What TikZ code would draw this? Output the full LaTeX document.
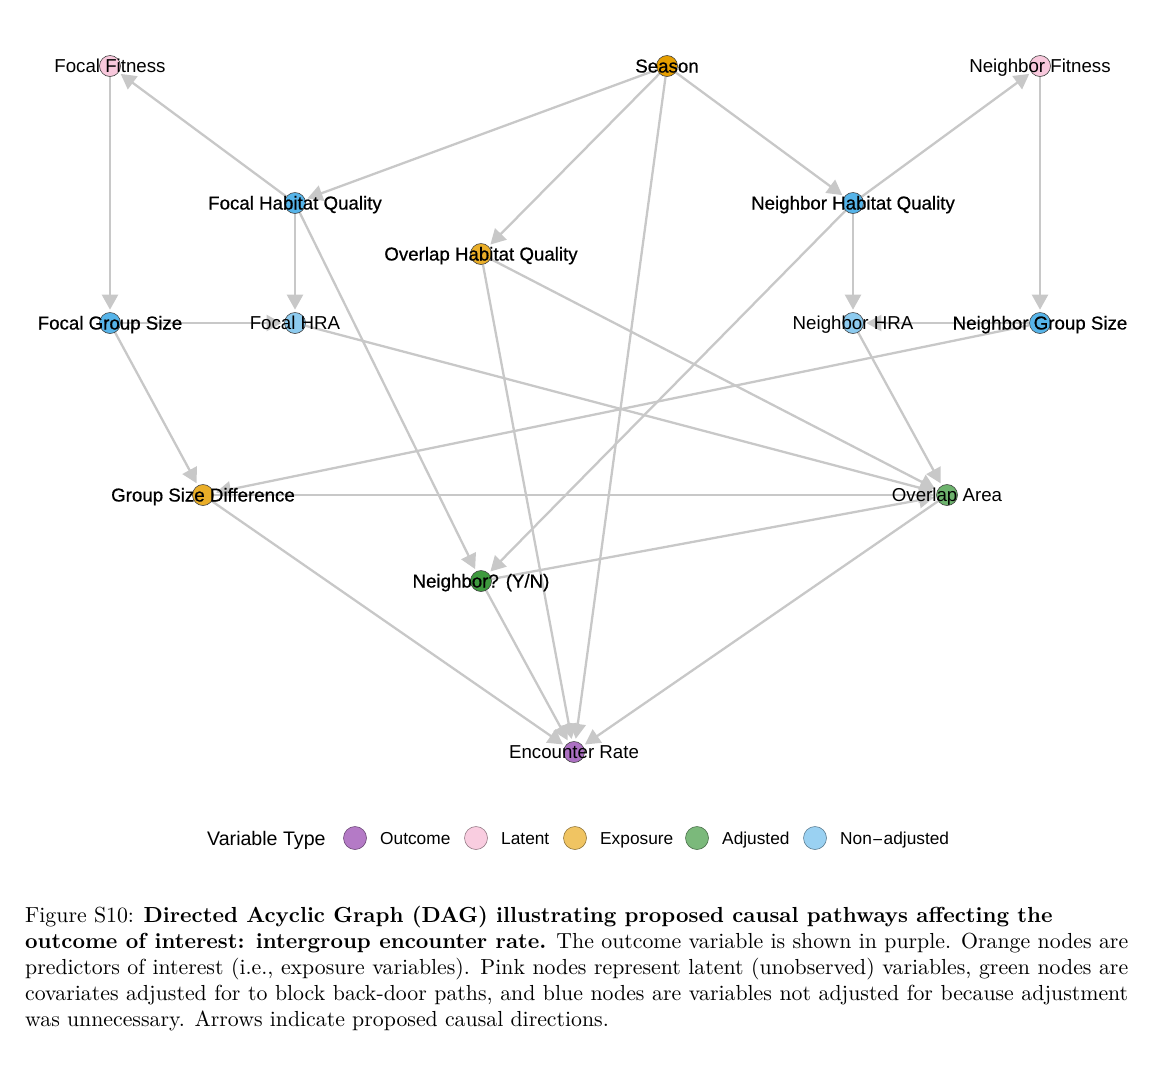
\documentclass[tikz,border=0pt]{standalone}
\usepackage{fontspec}
\newfontfamily\capfont{lmroman10-regular.otf}[BoldFont=lmroman10-bold.otf]
\newfontfamily\lblfont{Liberation Sans}
\newfontfamily\lblbfont[FakeBold=0.6]{Liberation Sans}
\newfontfamily\symfont{DejaVu Sans}
\usetikzlibrary{arrows.meta,backgrounds}
\definecolor{edgegray}{HTML}{C8C8C8}
\definecolor{cpurple}{HTML}{AC70C2}
\definecolor{cpink}{HTML}{F8C8DC}
\definecolor{corange}{HTML}{E69F00}
\definecolor{corangeb}{HTML}{EAAE28}
\definecolor{cblue}{HTML}{56B4E9}
\definecolor{cbluel}{HTML}{8DCBEF}
\definecolor{cgreen}{HTML}{3E9A3E}
\definecolor{cgreenl}{HTML}{6DB36D}
\definecolor{lpurple}{HTML}{B47AC6}
\definecolor{lpink}{HTML}{F9CDE0}
\definecolor{lorange}{HTML}{F0C462}
\definecolor{lgreen}{HTML}{7BB97B}
\definecolor{lblue}{HTML}{9AD1F2}
\begin{document}
\begin{tikzpicture}[x=1pt,y=-1pt,
  dagnode/.style={circle, draw=black!75, line width=0.6pt, minimum size=21pt, inner sep=0pt},
  edge/.style={draw=edgegray, line width=2.3pt, -{Triangle[length=15pt,width=16pt]}, shorten >=2.5pt},
  lab/.style={font={\lblfont\fontsize{18.7}{22}\selectfont}, inner sep=0pt, anchor=base},
  labb/.style={font={\lblbfont\fontsize{18.7}{22}\selectfont}, inner sep=0pt, anchor=base},
  legdot/.style={circle, line width=0.6pt, minimum size=23pt, inner sep=0pt},
  legtxt/.style={font={\lblfont\fontsize{17.3}{20}\selectfont}, inner sep=0pt, anchor=base west},
  legtitle/.style={font={\lblfont\fontsize{19.6}{23}\selectfont}, inner sep=0pt, anchor=base west}
]
\useasboundingbox (0,0) rectangle (1158,1080);

% node circles
\node[dagnode, fill=cpink] (ff) at (110,66) {};
\node[dagnode, fill=corange] (se) at (667,66) {};
\node[dagnode, fill=cpink] (nf) at (1040,66) {};
\node[dagnode, fill=cblue] (fhq) at (295,203) {};
\node[dagnode, fill=cblue] (nhq) at (853,203) {};
\node[dagnode, fill=corangeb] (ohq) at (481,254) {};
\node[dagnode, fill=cblue] (fgs) at (110,323) {};
\node[dagnode, fill=cbluel] (fhra) at (295,323) {};
\node[dagnode, fill=cbluel] (nhra) at (853,323) {};
\node[dagnode, fill=cblue] (ngs) at (1040,323) {};
\node[dagnode, fill=corangeb] (gsd) at (203,495) {};
\node[dagnode, fill=cgreenl] (oa) at (947,495) {};
\node[dagnode, fill=cgreen] (nyn) at (481,581) {};
\node[dagnode, fill=cpurple] (er) at (574,752) {};

% edges
\begin{pgfonlayer}{background}
\draw[edge] (fhq) -- (ff);
\draw[edge] (ff) -- (fgs);
\draw[edge] (se) -- (fhq);
\draw[edge] (se) -- (ohq);
\draw[edge] (se) -- (nhq);
\draw[edge] (se) -- (er);
\draw[edge] (nhq) -- (nf);
\draw[edge] (nf) -- (ngs);
\draw[edge] (fhq) -- (fhra);
\draw[edge] (fhq) -- (nyn);
\draw[edge] (nhq) -- (nhra);
\draw[edge] (nhq) -- (nyn);
\draw[edge] (fgs) -- (fhra);
\draw[edge] (ngs) -- (nhra);
\draw[edge] (fgs) -- (gsd);
\draw[edge] (ngs) -- (gsd);
\draw[edge] (fhra) -- (oa);
\draw[edge] (nhra) -- (oa);
\draw[edge] (ohq) -- (oa);
\draw[edge] (ohq) -- (er);
\draw[edge] (gsd) -- (oa);
\draw[edge] (gsd) -- (er);
\draw[edge] (nyn) -- (oa);
\draw[edge] (nyn) -- (er);
\draw[edge] (oa) -- (er);
\end{pgfonlayer}

% labels
\node[lab] (fft) at (110,72.5) {Focal Fitness};
\node[labb] (set) at (667,72.5) {Season};
\node[lab] (nft) at (1040,72.5) {Neighbor Fitness};
\node[labb] (fhqt) at (295,209.5) {Focal Habitat Quality};
\node[labb] (nhqt) at (853,209.5) {Neighbor Habitat Quality};
\node[labb] (ohqt) at (481,260.5) {Overlap Habitat Quality};
\node[labb] (fgst) at (110,329.5) {Focal Group Size};
\node[lab] (fhrat) at (295,329.5) {Focal HRA};
\node[lab] (nhrat) at (853,329.5) {Neighbor HRA};
\node[labb] (ngst) at (1040,329.5) {Neighbor Group Size};
\node[labb] (gsdt) at (203,501.5) {Group Size Difference};
\node[lab] (oat) at (947,501.5) {Overlap Area};
\node[labb] (nynt) at (481,587.5) {Neighbor? (Y/N)};
\node[lab] (ert) at (574,758.5) {Encounter Rate};

% legend
\node[legtitle] (lt) at (207,845) {Variable Type};
\node[legdot, fill=lpurple, draw=lpurple!60!black] (k1) at (355,838) {};
\node[legtxt] (k1t) at (380,844) {Outcome};
\node[legdot, fill=lpink, draw=lpink!60!black] (k2) at (476,838) {};
\node[legtxt] (k2t) at (501,844) {Latent};
\node[legdot, fill=lorange, draw=lorange!60!black] (k3) at (575,838) {};
\node[legtxt] (k3t) at (600,844) {Exposure};
\node[legdot, fill=lgreen, draw=lgreen!60!black] (k4) at (697,838) {};
\node[legtxt] (k4t) at (722,844) {Adjusted};
\node[legdot, fill=lblue, draw=lblue!60!black] (k5) at (815,838) {};
\node[legtxt] (k5t) at (840,844) {Non{\symfont\fontsize{14}{18}\selectfont −}adjusted};

% caption
\node[anchor=north west, inner sep=0pt, text width=1103pt, align=justify,
      font={\capfont\fontsize{21.8}{26}\selectfont}] (cap) at (25,905.5)
{Figure S10: \textbf{Directed Acyclic Graph (DAG) illustrating proposed causal pathways affecting the}\newline
\textbf{outcome of interest: intergroup encounter rate.} The outcome variable is shown in purple. Orange nodes are\linebreak
predictors of interest (i.e., exposure variables). Pink nodes represent latent (unobserved) variables, green nodes are\linebreak
covariates adjusted for to block back-door paths, and blue nodes are variables not adjusted for because adjustment\linebreak
was unnecessary. Arrows indicate proposed causal directions.};
\end{tikzpicture}
\end{document}
